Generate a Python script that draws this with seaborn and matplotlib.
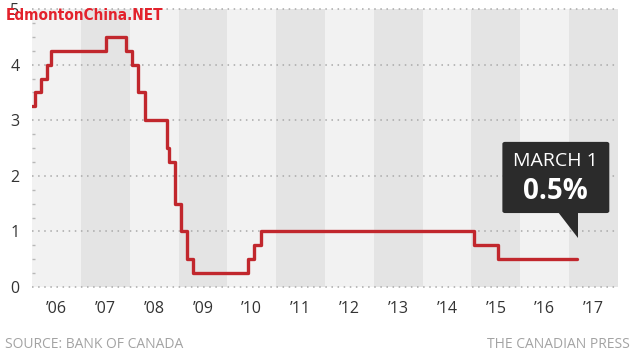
import numpy as np
import pandas as pd
import matplotlib.pyplot as plt
import matplotlib.dates as mdates
from matplotlib.patches import FancyBboxPatch, Polygon
import seaborn as sns

# Bank of Canada overnight rate, each change date and the new rate
change_dates = ["2006-01-01", "2006-01-24", "2006-03-07", "2006-04-25", "2006-05-24",
                "2007-07-10", "2007-12-04", "2008-01-22", "2008-03-04", "2008-04-22",
                "2008-10-08", "2008-10-21", "2008-12-09", "2009-01-20", "2009-03-03",
                "2009-04-21", "2010-06-01", "2010-07-20", "2010-09-08", "2015-01-21",
                "2015-07-15", "2017-03-01"]
rates = [3.25, 3.50, 3.75, 4.00, 4.25,
         4.50, 4.25, 4.00, 3.50, 3.00,
         2.50, 2.25, 1.50, 1.00, 0.50,
         0.25, 0.50, 0.75, 1.00, 0.75,
         0.50, 0.50]
years = [2006, 2007, 2008, 2009, 2010, 2011, 2012, 2013, 2014, 2015, 2016, 2017]
year_labels = ["\u201906", "\u201907", "\u201908", "\u201909", "\u201910", "\u201911",
               "\u201912", "\u201913", "\u201914", "\u201915", "\u201916", "\u201917"]
y_ticks = [0, 1, 2, 3, 4, 5]
callout_title = "MARCH 1"
callout_value = "0.5%"

df = pd.DataFrame({"date": pd.to_datetime(change_dates), "rate": rates})

sns.set_style("white")
plt.rcParams["font.family"] = ["Open Sans", "DejaVu Sans"]

fig = plt.figure(figsize=(6.35, 3.57), dpi=100)
ax = fig.add_axes([32 / 635, 70 / 357, 586 / 635, 278 / 357])

# alternating year bands
for i, yr in enumerate(years):
    ax.axvspan(pd.Timestamp(f"{yr}-01-01"), pd.Timestamp(f"{yr + 1}-01-01"),
               color="#f2f2f2" if i % 2 == 0 else "#e4e4e4", lw=0, zorder=0)

for v in y_ticks:
    ax.axhline(v, color="#a8a8a8", lw=1.1, ls=(0, (1, 3)), zorder=1, clip_on=False)

sns.lineplot(data=df, x="date", y="rate", drawstyle="steps-post", color="#c1272d",
             lw=2.4, ax=ax, zorder=3)

ax.set_xlim(pd.Timestamp("2006-01-01"), pd.Timestamp("2018-01-01"))
ax.set_ylim(0, 5)
ax.set_xticks([pd.Timestamp(f"{yr}-07-02") for yr in years])
ax.set_xticklabels(year_labels)
ax.set_yticks(y_ticks)
ax.set_yticklabels([str(v) for v in y_ticks])
ax.set_yticks(np.arange(0, 5, 0.25), minor=True)
ax.tick_params(axis="both", length=0, labelsize=11.5, colors="#333333")
ax.tick_params(axis="x", pad=10)
ax.tick_params(axis="y", pad=9)
ax.tick_params(axis="y", which="minor", left=True, direction="in", length=2.5, width=1,
               color="#b8b8b8")
ax.set_xlabel("")
ax.set_ylabel("")
for s in ax.spines.values():
    s.set_visible(False)

# callout anchored on the last point
last_x = mdates.date2num(df["date"].iloc[-1])
yr_d = 365.25
box_l, box_r = last_x - 1.53 * yr_d, last_x + 0.66 * yr_d
box_b, box_t = 1.33, 2.61
ax.add_patch(FancyBboxPatch((box_l, box_b), box_r - box_l, box_t - box_b,
                            boxstyle="round,pad=0,rounding_size=20", mutation_aspect=0.0018,
                            fc="#2b2b2b", ec="none", zorder=5, clip_on=False))
ax.add_patch(Polygon([(last_x - 0.39 * yr_d, box_b + 0.01), (last_x + 0.02 * yr_d, box_b + 0.01),
                      (last_x + 0.02 * yr_d, 0.88)], closed=True, fc="#2b2b2b", ec="none",
                     zorder=5))
cx = (box_l + box_r) / 2
ax.text(cx, 2.27, callout_title, color="white", fontsize=14, ha="center", va="center",
        zorder=6)
ax.text(cx, 1.72, callout_value, color="white", fontsize=20, fontweight="bold",
        ha="center", va="center", zorder=6)

fig.text(5 / 635, 13 / 357, "SOURCE: BANK OF CANADA", color="#a3a3a3", fontsize=10,
         ha="left", va="center")
fig.text(630 / 635, 13 / 357, "THE CANADIAN PRESS", color="#a3a3a3", fontsize=10,
         ha="right", va="center")
fig.text(6 / 635, 1 - 15 / 357, "EdmontonChina.NET", color="#e3222c", fontsize=11,
         fontweight="bold", fontstretch="condensed", family="DejaVu Sans",
         ha="left", va="center", zorder=10)

fig.savefig("out.png", dpi=100)
